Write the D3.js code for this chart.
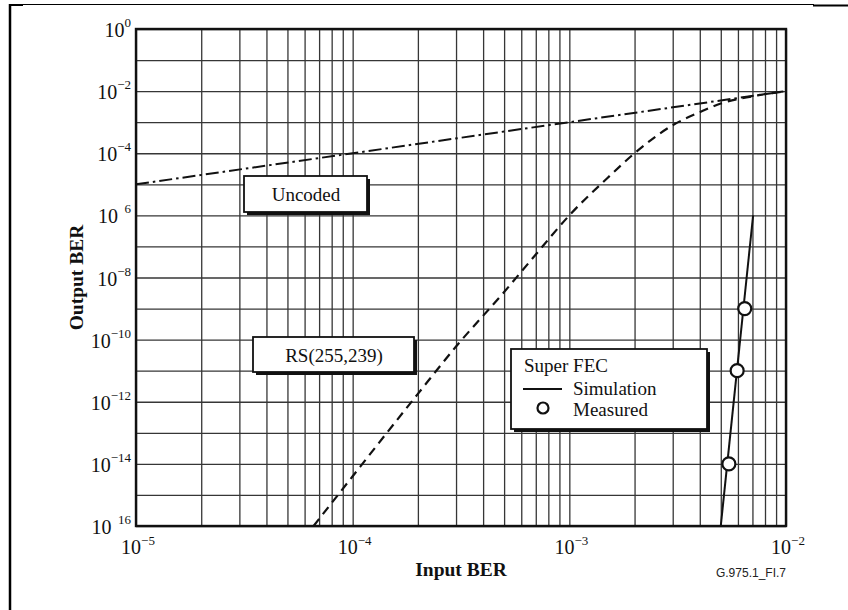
<!doctype html>
<html>
<head>
<meta charset="utf-8">
<style>
  body { margin: 0; background: #fff; }
  text { font-family: "Liberation Serif", "Times New Roman", serif; fill: #111; }
</style>
</head>
<body>
<svg id="chart"></svg>
<script src="https://cdn.jsdelivr.net/npm/d3@7/dist/d3.min.js"></script>
<script>
// axis ticks (labels drawn as 10 + superscript, minus lost on two of them as in the original)
const xTicks = [1e-5, 1e-4, 1e-3, 1e-2];
const xTickSup = ["\u22125", "\u22124", "\u22123", "\u22122"];
const yTicks = [1e0, 1e-2, 1e-4, 1e-6, 1e-8, 1e-10, 1e-12, 1e-14, 1e-16];
const yTickSup = ["0", "\u22122", "\u22124", "\u20026", "\u22128", "\u221210", "\u221212", "\u221214", "\u200216"];

// series, [input BER, output BER]
const uncoded = [[1e-5, 1e-5], [1e-2, 1e-2]];
const rs = [
  [6.6e-5, 1e-16], [1e-4, 4e-15], [2e-4, 1.8e-12], [3e-4, 6e-11], [5e-4, 3.4e-9],
  [7e-4, 5.5e-8], [1e-3, 1e-6], [1.5e-3, 1.6e-5], [2e-3, 1e-4], [3e-3, 8e-4],
  [4e-3, 2.1e-3], [5e-3, 4e-3], [7e-3, 6.8e-3], [1e-2, 1e-2]
];
const simulation = [[5.0e-3, 1e-16], [7.05e-3, 1e-6]];
const measured = [[5.45e-3, 1e-14], [5.95e-3, 1e-11], [6.45e-3, 1e-9]];

const W = 848, H = 610;
const m = { left: 136, top: 29, right: 62, bottom: 84 };
const w = W - m.left - m.right, h = H - m.top - m.bottom;

const svg = d3.select("#chart").attr("width", W).attr("height", H);

// page frame
svg.append("line").attr("x1", 10).attr("x2", 814).attr("y1", 4.5).attr("y2", 4.5).attr("stroke", "#000").attr("stroke-width", 1);
svg.append("line").attr("x1", 10).attr("x2", 23).attr("y1", 5).attr("y2", 5).attr("stroke", "#000").attr("stroke-width", 2);
svg.append("line").attr("x1", 813).attr("x2", 848).attr("y1", 5.5).attr("y2", 5.5).attr("stroke", "#000").attr("stroke-width", 2);
svg.append("line").attr("x1", 10).attr("x2", 10).attr("y1", 4).attr("y2", H).attr("stroke", "#000").attr("stroke-width", 2.5);

const g = svg.append("g").attr("transform", `translate(${m.left},${m.top})`);

const x = d3.scaleLog().domain([1e-5, 1e-2]).range([0, w]);
const y = d3.scaleLog().domain([1e-16, 1e0]).range([h, 0]);

// grid
const xGrid = x.ticks();
const yGrid = d3.range(-16, 1).map(e => Math.pow(10, e));

g.append("g")
  .attr("class", "xgrid")
  .attr("transform", `translate(0,${h})`)
  .call(d3.axisBottom(x).tickValues(xGrid).tickSize(-h).tickFormat(""))
  .call(s => s.select(".domain").remove())
  .call(s => s.selectAll("line").attr("stroke", "#363636").attr("stroke-width", 1.3));

g.append("g")
  .attr("class", "ygrid")
  .call(d3.axisLeft(y).tickValues(yGrid).tickSize(-w).tickFormat(""))
  .call(s => s.select(".domain").remove())
  .call(s => s.selectAll("line").attr("stroke", "#363636").attr("stroke-width", 1.3));

g.append("rect")
  .attr("width", w).attr("height", h)
  .attr("fill", "none").attr("stroke", "#111").attr("stroke-width", 2.4);

// tick labels
const yl = g.append("g").selectAll("text").data(yTicks).enter()
  .append("text")
  .attr("x", -5)
  .attr("y", d => y(d) + 8)
  .attr("text-anchor", "end")
  .attr("font-size", 20);
yl.append("tspan").text("10");
yl.append("tspan").attr("font-size", 13).attr("dy", -10).text((d, i) => yTickSup[i]);

const xl = g.append("g").selectAll("text").data(xTicks).enter()
  .append("text")
  .attr("x", d => x(d) + 2)
  .attr("y", h + 28)
  .attr("text-anchor", "middle")
  .attr("font-size", 20);
xl.append("tspan").text("10");
xl.append("tspan").attr("font-size", 13).attr("dy", -9).text((d, i) => xTickSup[i]);

// axis titles
svg.append("text")
  .attr("transform", `translate(83,${m.top + h / 2}) rotate(-90)`)
  .attr("text-anchor", "middle")
  .attr("font-size", 19.5).attr("font-weight", "bold")
  .text("Output BER");

svg.append("text")
  .attr("x", m.left + w / 2).attr("y", 576)
  .attr("text-anchor", "middle")
  .attr("font-size", 19.5).attr("font-weight", "bold")
  .text("Input BER");

svg.append("text")
  .attr("x", 786).attr("y", 577)
  .attr("text-anchor", "end")
  .style("font-family", "'Liberation Sans', Arial, sans-serif")
  .attr("font-size", 12).style("fill", "#222")
  .text("G.975.1_FI.7");

// curves
const line = d3.line().x(d => x(d[0])).y(d => y(d[1]));
const curve = d3.line().x(d => x(d[0])).y(d => y(d[1])).curve(d3.curveMonotoneX);

g.append("path").datum(uncoded)
  .attr("d", line).attr("fill", "none")
  .attr("stroke", "#111").attr("stroke-width", 2)
  .attr("stroke-dasharray", "13,4,2.5,4");

g.append("path").datum(rs)
  .attr("d", curve).attr("fill", "none")
  .attr("stroke", "#111").attr("stroke-width", 2.2)
  .attr("stroke-dasharray", "9,6");

g.append("path").datum(simulation)
  .attr("d", line).attr("fill", "none")
  .attr("stroke", "#111").attr("stroke-width", 2);

// label boxes with drop shadow
function box(x0, y0, bw, bh) {
  svg.append("rect").attr("x", x0 + 3).attr("y", y0 + 3).attr("width", bw).attr("height", bh).attr("fill", "#111");
  svg.append("rect").attr("x", x0).attr("y", y0).attr("width", bw).attr("height", bh)
    .attr("fill", "#fff").attr("stroke", "#111").attr("stroke-width", 1.8);
}

box(244, 176, 123, 36);
svg.append("text").attr("x", 306).attr("y", 201).attr("text-anchor", "middle").attr("font-size", 19).text("Uncoded");

box(253, 337, 161, 35);
svg.append("text").attr("x", 334).attr("y", 362).attr("text-anchor", "middle").attr("font-size", 19).text("RS(255,239)");

box(511, 349, 196, 80);
svg.append("text").attr("x", 524).attr("y", 372).attr("font-size", 19).text("Super FEC");
svg.append("line").attr("x1", 523).attr("x2", 562).attr("y1", 389).attr("y2", 389).attr("stroke", "#111").attr("stroke-width", 2);
svg.append("text").attr("x", 573).attr("y", 395).attr("font-size", 19).text("Simulation");
svg.append("circle").attr("cx", 543).attr("cy", 408).attr("r", 5.5).attr("fill", "#fff").attr("stroke", "#111").attr("stroke-width", 2.2);
svg.append("text").attr("x", 573).attr("y", 416).attr("font-size", 19).text("Measured");

// measured points
g.append("g").selectAll("circle").data(measured).enter()
  .append("circle")
  .attr("cx", d => x(d[0])).attr("cy", d => y(d[1]))
  .attr("r", 6.5)
  .attr("fill", "#fff").attr("stroke", "#111").attr("stroke-width", 2.2);
</script>
</body>
</html>
